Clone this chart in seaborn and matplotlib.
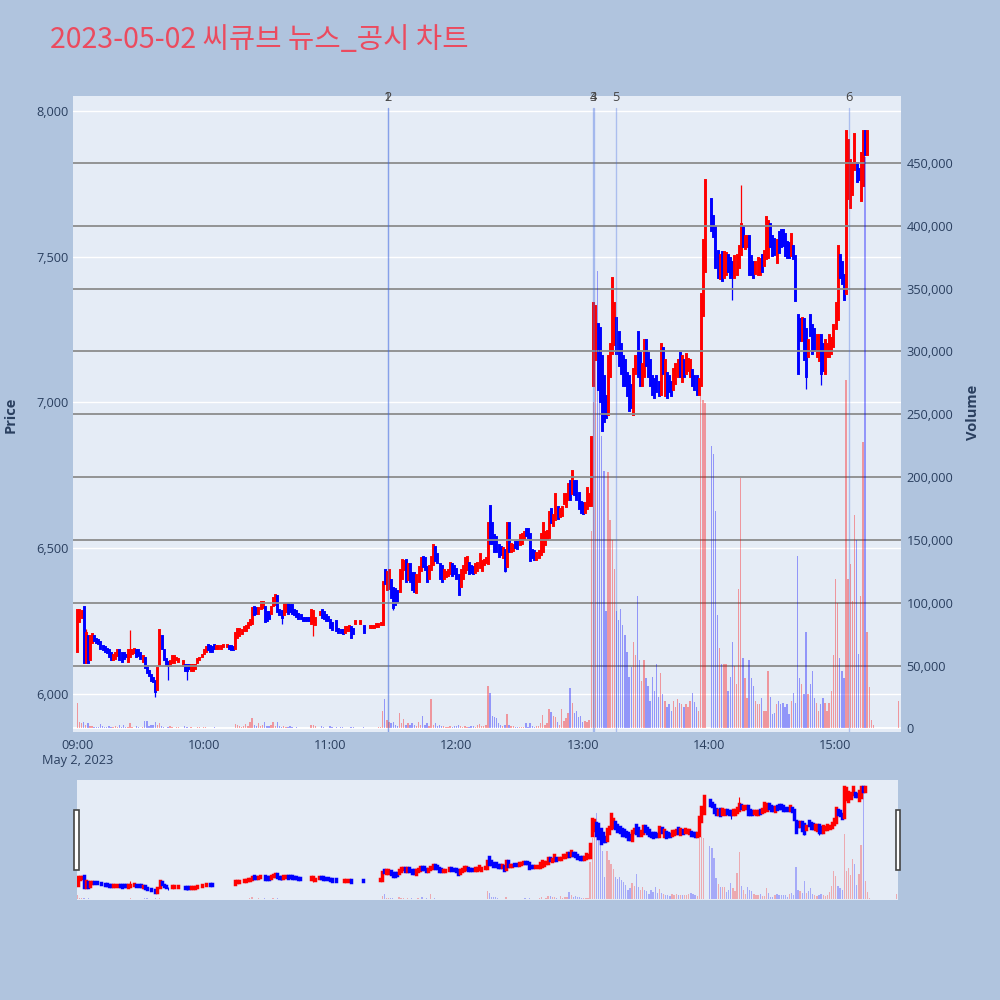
import numpy as np
import pandas as pd
import matplotlib
matplotlib.use("Agg")
import matplotlib.pyplot as plt
import seaborn as sns
from matplotlib.patches import Rectangle
from matplotlib.transforms import blended_transform_factory

# ---------------- data (1-minute candles, 09:00 .. 15:19, plus 15:30 close) ----------------
opens = [
 6150,6250,6265,6300,6110,6200,6120,6180,6200,6190, 6185,6180,6165,6160,6155,6150,6140,6120,6125,6135,
 6150,6140,6140,6135,6115,6130,6140,6145,6150,6150, 6140,6115,6125,6095,6080,6065,6055,6045,6020,6105,
 6200,6150,6120,6110,6100,6110,6110,6120,6115,None, 6100,6100,6100,6100,6085,6085,6090,6110,6120,6130,
 6140,6150,6170,6165,6160,6170,6160,6160,6160,6165, 6170,6165,6165,6165,6160,6160,6195,6205,6210,6220,
 6220,6230,6240,6245,6300,6295,6280,6295,6300,6300, 6280,6280,6280,6305,6310,6335,6290,6285,6275,6285,
 6310,6305,6305,6290,6285,6275,6270,6260,6260,6260, 6260,6245,6250,6240,None,6275,6290,6280,6270,6265,
 6255,6245,None,6250,6225,6220,6220,6215,6220,6220, 6230,6225,6245,None,6245,None,6235,None,None,6230,
 6230,6230,6235,6235,6240,6240,6425,6360,6365,6390, 6365,6360,6355,6355,6400,6430,6460,6395,6445,6415,
 6415,6350,6390,6425,6470,6465,6435,6400,6430,6445, 6505,6480,6445,6440,6400,6405,6410,6415,6445,6440,
 6430,6410,6370,6400,6420,6430,6450,6440,6435,6420, 6425,6435,6425,6445,6455,6450,6645,6585,6545,6540,
 6510,6505,6470,6495,6440,6585,6490,6495,6520,6520, 6515,6520,6535,6565,6565,6550,6495,6490,6465,6470,
 6480,6490,6515,6535,6540,6635,6580,6600,6640,6610, 6615,6655,6645,6670,6730,6690,6730,6730,6690,6660,
 6655,6625,6640,6650,6650,7060,7150,7270,7255,7160, 7090,7020,6960,7090,7170,7200,7290,7240,7200,7160,
 7145,7100,7090,7060,6960,7100,7240,7170,7060,7090, 7215,7170,7145,7090,7080,7090,7070,7030,7185,7025,
 7100,7090,7070,7045,7065,7090,7170,7075,7145,7100, 7110,7090,7110,7090,7090,7030,7060,7300,7450,None,
 None,7695,7640,7600,7520,7425,7515,7430,7440,7505, 7495,7480,7430,7440,7465,7510,7600,7530,7535,7570,
 7500,7480,7445,7440,7440,7505,7470,7495,7500,7610, 7570,7560,7480,7585,7590,7590,7575,7550,7545,7505,
 7535,7500,7300,7285,7215,7285,7250,7160,7300,7265, 7250,7160,7145,7230,7200,7100,7160,7160,7170,7195,
 7255,7285,7505,7480,7435,7375,7700,7670,7715,7800, 7820,7800,7695,7745,7930,7850,7930,7930,7930,None,
]
closes = [
 6290,6290,6285,6110,6210,6110,6200,6205,6185,6180, 6175,6160,6155,6150,6145,6130,6120,6135,6140,6150,
 6120,6115,6125,6130,6150,6150,6150,6155,6130,6135, 6125,6130,6095,6075,6065,6050,6045,6010,6090,6220,
 6160,6120,6105,6100,6115,6130,6130,6125,6120,None, 6115,6085,6085,6090,6100,6100,6100,6120,6125,6135,
 6150,6160,6155,6150,6150,6160,6165,6165,6165,6170, 6170,6170,6160,6155,6155,6210,6225,6225,6220,6230,
 6235,6245,6255,6295,6275,6280,6295,6315,6315,6250, 6255,6260,6300,6330,6340,6285,6275,6265,6310,6310,
 6280,6285,6280,6275,6270,6260,6260,6255,6255,6255, 6255,6290,6285,6260,None,6280,6265,6260,6255,6255,
 6230,6225,None,6220,6215,6215,6210,6230,6230,6235, 6195,6210,6250,None,6250,None,6215,None,None,6235,
 6235,6235,6240,6240,6245,6385,6380,6420,6425,6335, 6300,6310,6320,6425,6460,6455,6390,6445,6390,6360,
 6355,6410,6435,6465,6440,6430,6390,6440,6470,6510, 6460,6455,6400,6390,6425,6420,6425,6450,6410,6415,
 6400,6345,6425,6440,6465,6470,6415,6420,6415,6445, 6450,6480,6455,6460,6465,6585,6520,6520,6490,6490,
 6475,6480,6500,6425,6585,6490,6515,6510,6505,6500, 6545,6550,6555,6545,6540,6460,6470,6465,6485,6490,
 6550,6585,6555,6560,6625,6590,6615,6685,6605,6635, 6640,6685,6685,6720,6670,6765,6685,6670,6640,6625,
 6620,6655,6705,6685,6880,7340,7330,7045,7005,6905, 6935,6950,7160,7200,7425,7340,7170,7130,7100,7060,
 7060,7025,6975,6985,7115,7160,7090,7060,7130,7215, 7130,7090,7060,7030,7020,7040,7025,7200,7100,7145,
 7020,7040,7025,7115,7130,7145,7090,7160,7090,7165, 7150,7145,7060,7045,7030,7080,7370,7555,7760,None,
 None,7590,7570,7465,7430,7505,7420,7515,7510,7450, 7430,7440,7500,7505,7535,7610,7535,7570,7570,7440,
 7440,7430,7480,7495,7490,7450,7520,7635,7620,7535, 7505,7510,7555,7515,7535,7540,7505,7500,7500,7575,
 7495,7350,7100,7215,7290,7150,7090,7215,7230,7170, 7180,7230,7230,7100,7110,7215,7200,7230,7220,7265,
 7340,7535,7430,7410,7355,7930,7900,7830,7820,7920, 7760,7765,7855,7930,7850,7930,7930,7930,7930,None,
]
volumes = [
 20000,5000,4000,5000,3000,4000,2000,1500,1000,1000, 800,3500,2000,1000,1000,1500,800,1200,1500,1000,
 2500,1000,3000,1000,1000,4000,1000,500,1500,1000, 500,1000,5500,6000,2000,3000,2500,5000,3000,4000,
 2000,1000,500,1000,1500,800,500,1000,1200,0, 500,1500,1000,500,1000,500,500,1000,800,500,
 1000,800,500,500,300,800,500,300,300,500, 500,300,500,300,300,3500,2500,1500,1000,2000,
 3500,1500,5000,8500,3000,2000,4500,2000,3000,5000, 2000,1500,3000,5000,2000,5000,1500,1000,1500,1000,
 1000,1500,800,500,1000,500,300,300,300,300, 500,2500,3000,1500,0,500,1500,1000,500,500,
 1500,1000,0,1000,500,800,1000,500,500,500, 1000,800,300,0,300,0,800,0,0,300,
 300,500,500,800,1000,14000,23600,6400,5000,4000, 5000,3000,2000,11900,4000,7600,3000,4000,3000,4000,
 3000,2000,5000,3000,10000,3000,4000,2000,23600,3000, 4000,2000,3000,2000,1500,1000,1000,1500,1000,2000,
 1500,2500,2000,1000,1500,1000,1000,2000,1500,1000, 2500,3500,1500,2000,3000,34000,28000,9500,9000,8000,
 4000,3000,2000,2500,11000,3000,2000,1500,1000,1000, 800,1000,1000,4000,1000,4500,1500,1000,2000,1500,
 4000,10600,3000,4000,15400,13000,10000,9000,5000,3000, 15000,6000,8000,12000,31700,20000,12000,14000,9000,10000,
 5000,6000,5000,7000,156700,260000,337000,364000,317000,233000, 205000,93000,204000,166000,150000,127000,93000,86000,95000,82000,
 74000,61000,41000,49000,69000,58000,105000,54000,38000,54000, 40000,34000,22000,41000,30000,51000,25000,44000,27000,22000,
 17000,19000,14000,22000,17000,23000,20000,19000,17000,19000, 17000,22000,28000,21000,17000,14000,267000,261000,259000,0,
 0,225000,218000,173000,90000,64000,51000,51000,51000,30000, 41000,69000,50000,35000,111000,199000,56000,40000,24000,54000,
 40000,34000,22000,19000,19000,24000,14000,14000,46000,25000, 11000,12000,19000,22000,19000,20000,17000,19000,11000,22000,
 28000,20000,137000,40000,35000,27000,77000,27000,35000,46000, 24000,20000,14000,19000,24000,20000,14000,20000,30000,58000,
 119000,100000,56000,46000,40000,277000,119000,131000,101000,170000, 150000,59000,105000,228000,455000,77000,33000,7000,3000,0,
]
wick_high = {25: 6220, 4: 6225, 315: 7745}
wick_low = {37: 5990, 43: 6050, 52: 6050, 97: 6240, 112: 6200, 150: 6290,
            203: 6420, 311: 7350, 346: 7045, 353: 7060}
closing_minute, closing_price, closing_volume = 390, 7930, 22000

news_minutes = [147.3, 147.6, 245.0, 245.2, 255.9, 366.6]
news_labels = ["1", "2", "3", "4", "5", "6"]

hour_ticks = [0, 60, 120, 180, 240, 300, 360]
hour_labels = ["09:00", "10:00", "11:00", "12:00", "13:00", "14:00", "15:00"]
date_label = "May 2, 2023"
price_ticks = [6000, 6500, 7000, 7500, 8000]
volume_ticks = [0, 50000, 100000, 150000, 200000, 250000, 300000, 350000, 400000, 450000]
title = "2023-05-02 씨큐브 뉴스_공시 차트"

# ---------------- frame ----------------
n = len(opens)
df = pd.DataFrame({
    "minute": list(range(n)) + [closing_minute],
    "open": [np.nan if v is None else v for v in opens] + [closing_price],
    "close": [np.nan if v is None else v for v in closes] + [closing_price],
    "volume": volumes + [closing_volume],
})
df["high"] = df[["open", "close"]].max(axis=1)
df["low"] = df[["open", "close"]].min(axis=1)
for k, v in wick_high.items():
    df.loc[df.minute == k, "high"] = v
for k, v in wick_low.items():
    df.loc[df.minute == k, "low"] = v
prev_close = df["close"].ffill().shift(1)
df["up"] = (df.close > df.open) | ((df.close == df.open) & (df.close >= prev_close.fillna(df.close)))

RED, BLUE = "#FF0000", "#0000FF"
BG = "#E5ECF6"
FIG_BG = "#B0C4DE"
TXT = "#2a3f5f"

sns.set_theme(style="white")
plt.rcParams["font.family"] = ["Open Sans", "Noto Sans CJK KR", "DejaVu Sans"]

fig = plt.figure(figsize=(10, 10), dpi=100, facecolor=FIG_BG)

XLIM = (-2.05, 391.1)
PLIM = (5872, 8050)
VLIM = (-2700, 503400)


def draw(ax, axv, body_lw, wick_lw, bar_w, bar_alpha):
    d = df.dropna(subset=["open"])
    cols = np.where(d.up, RED, BLUE)
    axv.bar(df.minute, df.volume, width=bar_w, linewidth=0,
            color=[(1, 0, 0, bar_alpha) if u else (0, 0, 1, bar_alpha) for u in df.up],
            zorder=2)
    ax.vlines(d.minute, d.low, d.high, colors=cols, linewidth=wick_lw, zorder=3)
    lo = np.minimum(d.open, d.close)
    hi = np.maximum(d.open, d.close) + 0.5
    lc = ax.vlines(d.minute, lo, hi, colors=cols, linewidth=body_lw, zorder=4)
    lc.set_capstyle("projecting")


# ---------------- main chart ----------------
ax = fig.add_axes([0.073, 0.2683, 0.828, 0.6357])
ax.set_facecolor(BG)
axv = ax.twinx()
axv.patch.set_visible(False)

draw(ax, axv, body_lw=2.1, wick_lw=0.9, bar_w=0.65, bar_alpha=0.36)

ax.set_xlim(*XLIM)
ax.set_ylim(*PLIM)
axv.set_ylim(*VLIM)

ax.set_yticks(price_ticks)
ax.set_yticklabels([f"{v:,}" for v in price_ticks])
axv.set_yticks(volume_ticks)
axv.set_yticklabels([f"{v:,}" for v in volume_ticks])
ax.set_xticks(hour_ticks)
ax.set_xticklabels([hour_labels[0] + "\n" + date_label] + hour_labels[1:], linespacing=1.25)

ax.yaxis.grid(True, color="white", linewidth=1.0)
ax.xaxis.grid(False)
axv.yaxis.grid(True, color="#8c8c8c", linewidth=1.3)
axv.xaxis.grid(False)
axv.get_ygridlines()[0].set_color("white")
axv.set_axisbelow(True)

for a in (ax, axv):
    for s in a.spines.values():
        s.set_visible(False)
ax.tick_params(axis="y", length=0, pad=3, labelsize=9.2, labelcolor=TXT)
ax.tick_params(axis="x", length=0, pad=5, labelsize=9.2, labelcolor=TXT)
axv.tick_params(axis="y", length=0, pad=4, labelsize=9.2, labelcolor=TXT)

ax.set_ylabel("Price", fontsize=10.5, color=TXT, fontweight="bold")
ax.yaxis.set_label_coords(-0.0665, 0.498)
axv.set_ylabel("Volume", fontsize=10.5, color=TXT, fontweight="bold", rotation=90)
axv.yaxis.set_label_coords(1.0785, 0.502)

# news markers
trans = blended_transform_factory(axv.transData, axv.transAxes)
for m, lab in zip(news_minutes, news_labels):
    axv.axvline(m, ymin=0, ymax=0.981, color="#4169E1", alpha=0.35, linewidth=1.0, zorder=5)
    axv.text(m, 0.997, lab, transform=trans, ha="center", va="center",
             fontsize=9.2, color="#444444", zorder=6)

# ---------------- range slider ----------------
sl = fig.add_axes([0.077, 0.100, 0.821, 0.120])
sl.set_facecolor(BG)
slv = sl.twinx()
slv.patch.set_visible(False)
draw(sl, slv, body_lw=2.5, wick_lw=0.8, bar_w=0.6, bar_alpha=0.28)
sl.set_xlim(-0.3, 390.6)
sl.set_ylim(*PLIM)
slv.set_ylim(*VLIM)
for a in (sl, slv):
    a.set_xticks([])
    a.set_yticks([])
    for s in a.spines.values():
        s.set_visible(False)

for x0 in (0.0743, 0.8963):
    fig.add_artist(Rectangle((x0, 0.130), 0.0042, 0.060, transform=fig.transFigure,
                             facecolor="white", edgecolor="#444444", linewidth=1.2))

fig.text(0.05, 0.960, title, ha="left", va="center", fontsize=20.6, color="#EB4B5F",
         family=["Noto Sans CJK KR", "DejaVu Sans"])

fig.savefig("out.png", dpi=100, facecolor=FIG_BG)
